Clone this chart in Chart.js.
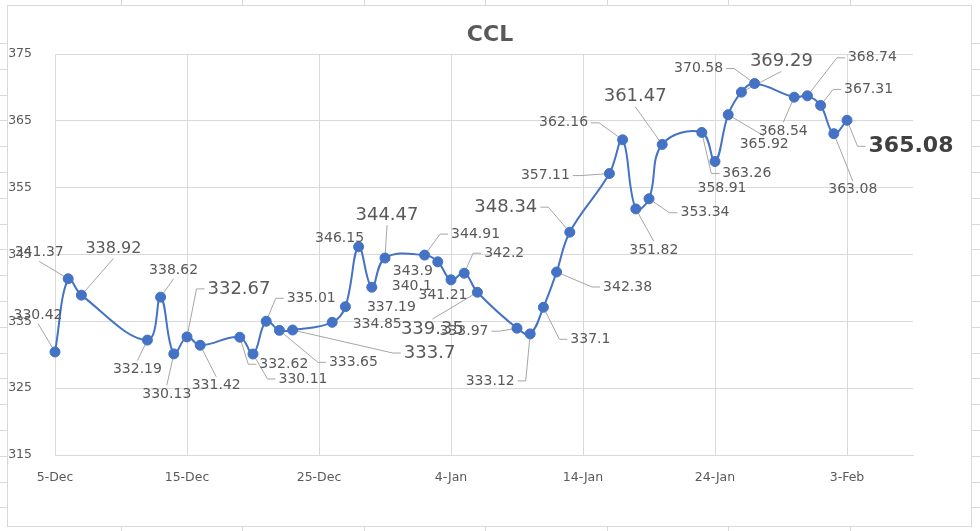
<!DOCTYPE html>
<html lang="en">
<head>
    <meta charset="UTF-8">
    <title>CCL</title>
    <script src="https://cdn.jsdelivr.net/npm/chart.js"></script>
    <style>
        body { margin: 0; background: #ffffff; }
        #wrap { position: absolute; left: 0; top: 0; width: 980px; height: 531px; }
    </style>
</head>
<body>
    <div id="wrap">
        <canvas id="cclChart" width="980" height="531"></canvas>
    </div>

    <script>
        // trading days and CCL values
        var dates = ['2022-12-05', '2022-12-06', '2022-12-07', '2022-12-12', '2022-12-13', '2022-12-14',
            '2022-12-15', '2022-12-16', '2022-12-19', '2022-12-20', '2022-12-21', '2022-12-22',
            '2022-12-23', '2022-12-26', '2022-12-27', '2022-12-28', '2022-12-29', '2022-12-30',
            '2023-01-02', '2023-01-03', '2023-01-04', '2023-01-05', '2023-01-06', '2023-01-09',
            '2023-01-10', '2023-01-11', '2023-01-12', '2023-01-13', '2023-01-16', '2023-01-17',
            '2023-01-18', '2023-01-19', '2023-01-20', '2023-01-23', '2023-01-24', '2023-01-25',
            '2023-01-26', '2023-01-27', '2023-01-30', '2023-01-31', '2023-02-01', '2023-02-02',
            '2023-02-03'];
        var cclValues = [330.42, 341.37, 338.92, 332.19, 338.62, 330.13,
            332.67, 331.42, 332.62, 330.11, 335.01, 333.65,
            333.7, 334.85, 337.19, 346.15, 340.1, 344.47,
            344.91, 343.9, 341.21, 342.2, 339.35, 333.97,
            333.12, 337.1, 342.38, 348.34, 357.11, 362.16,
            351.82, 353.34, 361.47, 363.26, 358.91, 365.92,
            369.29, 370.58, 368.54, 368.74, 367.31, 363.08,
            365.08];
        var xTickLabels = ['5-Dec', '15-Dec', '25-Dec', '4-Jan', '14-Jan', '24-Jan', '3-Feb'];
        var yTickValues = [315, 325, 335, 345, 355, 365, 375];

        // where each data label sits relative to its point: dx, dy, font size, leader side, bold
        var labelPlacement = [
            [-17, -37, 14, 'B'], [-29, -26, 14, 'B'], [32, -46, 16, 'B'], [-10, 29, 14, 'T'],
            [13, -27, 14, 'B'], [-7, 40, 14, 'T'], [52, -48, 18, 'L'], [16, 40, 14, 'T'],
            [44, 27, 14, 'L'], [50, 25, 14, 'L'], [45, -23, 14, 'L'], [74, 32, 14, 'L'],
            [137, 23, 18, 'L'], [45, 2, 14, ''], [46, 1, 14, ''], [-19, -8, 14, ''],
            [40, -1, 14, ''], [2, -43, 18, 'B'], [51, -21, 14, 'L'], [-25, 10, 14, ''],
            [-8, 16, 14, ''], [40, -20, 14, 'L'], [-45, 37, 18, 'T'], [-53, 3, 14, 'R'],
            [-40, 47, 14, 'R'], [47, 32, 14, 'L'], [71, 15, 14, 'L'], [-64, -25, 18, 'R'],
            [-64, 2, 14, 'R'], [-59, -17, 14, 'R'], [18, 41, 14, 'T'], [56, 14, 14, 'L'],
            [-27, -48, 18, 'B'], [45, 41, 14, 'L'], [7, 27, 14, ''], [36, 30, 14, 'T'],
            [40, -31, 18, 'B'], [-56, -15, 14, 'R'], [-11, 34, 14, 'T'], [65, -38, 14, 'L'],
            [48, -16, 14, 'L'], [19, 56, 14, 'T'], [64, 26, 22, 'L', true]
        ];

        var FONT = "'DejaVu Sans', sans-serif";
        var TEXT = '#595959';
        var start = Date.UTC(2022, 11, 5);

        function dayOffset(s) {
            var p = s.split('-');
            return (Date.UTC(+p[0], +p[1] - 1, +p[2]) - start) / 86400000;
        }

        var points = dates.map(function (d, i) {
            return { x: dayOffset(d), y: cclValues[i] };
        });

        // spreadsheet cells behind the chart + chart border + title
        var sheetPlugin = {
            id: 'sheet',
            beforeDraw: function (chart) {
                var ctx = chart.ctx;
                ctx.save();
                ctx.fillStyle = '#ffffff';
                ctx.fillRect(0, 0, 980, 531);
                ctx.strokeStyle = '#d9d9d9';
                ctx.lineWidth = 1;
                [121, 242, 364, 485, 607, 728, 850].forEach(function (x) {
                    ctx.beginPath();
                    ctx.moveTo(x + 0.5, 0); ctx.lineTo(x + 0.5, 5);
                    ctx.moveTo(x + 0.5, 527); ctx.lineTo(x + 0.5, 531);
                    ctx.stroke();
                });
                for (var y = 43; y < 527; y += 25.8) {
                    var yy = Math.round(y) + 0.5;
                    ctx.beginPath();
                    ctx.moveTo(0, yy); ctx.lineTo(7, yy);
                    ctx.moveTo(971, yy); ctx.lineTo(980, yy);
                    ctx.stroke();
                }
                ctx.strokeRect(7.5, 5.5, 964, 521);

                ctx.fillStyle = TEXT;
                ctx.font = 'bold 22px ' + FONT;
                ctx.textAlign = 'center';
                ctx.textBaseline = 'middle';
                ctx.fillText('CCL', 490, 35);
                ctx.restore();
            }
        };

        function labelBox(ctx, pt, i) {
            var lp = labelPlacement[i];
            ctx.font = (lp[4] ? 'bold ' : '') + lp[2] + 'px ' + FONT;
            var txt = String(cclValues[i]);
            var w = ctx.measureText(txt).width;
            return { txt: txt, cx: pt.x + lp[0], cy: pt.y + lp[1], w: w, h: lp[2] * 0.8, side: lp[3] };
        }

        // leader lines go under the markers, text on top
        var labelPlugin = {
            id: 'cclLabels',
            beforeDatasetsDraw: function (chart) {
                var ctx = chart.ctx;
                var meta = chart.getDatasetMeta(0);
                ctx.save();
                ctx.strokeStyle = '#a6a6a6';
                ctx.lineWidth = 1;
                meta.data.forEach(function (pt, i) {
                    var b = labelBox(ctx, pt, i);
                    if (!b.side) return;
                    ctx.beginPath();
                    ctx.moveTo(pt.x, pt.y);
                    if (b.side === 'L' || b.side === 'R') {
                        var s = b.side === 'L' ? -1 : 1;
                        var ax = b.cx + s * (b.w / 2 + 3);
                        ctx.lineTo(ax + s * 8, b.cy);
                        ctx.lineTo(ax, b.cy);
                    } else {
                        var ay = b.side === 'T' ? b.cy - b.h / 2 - 3 : b.cy + b.h / 2 + 3;
                        ctx.lineTo(b.cx, ay);
                    }
                    ctx.stroke();
                });
                ctx.restore();
            },
            afterDatasetsDraw: function (chart) {
                var ctx = chart.ctx;
                var meta = chart.getDatasetMeta(0);
                ctx.save();
                ctx.textAlign = 'center';
                ctx.textBaseline = 'middle';
                meta.data.forEach(function (pt, i) {
                    var b = labelBox(ctx, pt, i);
                    ctx.fillStyle = labelPlacement[i][4] ? '#404040' : TEXT;
                    ctx.fillText(b.txt, b.cx, b.cy);
                });
                ctx.restore();
            }
        };

        var ctx = document.getElementById('cclChart').getContext('2d');
        var cclChart = new Chart(ctx, {
            type: 'line',
            data: {
                datasets: [{
                    label: 'CCL',
                    data: points,
                    borderColor: '#4472C4',
                    borderWidth: 2,
                    backgroundColor: '#4472C4',
                    pointRadius: 5,
                    pointBackgroundColor: '#4472C4',
                    pointBorderColor: '#4472C4',
                    pointBorderWidth: 1,
                    tension: 0.4,
                    fill: false,
                    clip: false
                }]
            },
            options: {
                responsive: false,
                animation: false,
                devicePixelRatio: 1,
                layout: { padding: { top: 54, right: 67, bottom: 0, left: 0 } },
                plugins: {
                    legend: { display: false },
                    title: { display: false },
                    tooltip: { enabled: false }
                },
                scales: {
                    x: {
                        type: 'linear',
                        min: 0,
                        max: 65,
                        afterFit: function (scale) { scale.height = 76; },
                        afterBuildTicks: function (scale) {
                            scale.ticks = xTickLabels.map(function (l, i) { return { value: i * 10 }; });
                        },
                        ticks: {
                            autoSkip: false,
                            maxRotation: 0,
                            padding: 15,
                            color: TEXT,
                            font: { family: FONT, size: 12.5 },
                            callback: function (v) { return xTickLabels[Math.round(v / 10)]; }
                        },
                        grid: { color: '#d9d9d9', drawTicks: false },
                        border: { display: true, color: '#d9d9d9' }
                    },
                    y: {
                        min: 315,
                        max: 375,
                        afterFit: function (scale) { scale.width = 55; },
                        afterBuildTicks: function (scale) {
                            scale.ticks = yTickValues.map(function (v) { return { value: v }; });
                        },
                        ticks: {
                            padding: 23,
                            color: TEXT,
                            font: { family: FONT, size: 12.5 }
                        },
                        grid: { color: '#d9d9d9', drawTicks: false },
                        border: { display: false }
                    }
                }
            },
            plugins: [sheetPlugin, labelPlugin]
        });
    </script>
</body>
</html>
